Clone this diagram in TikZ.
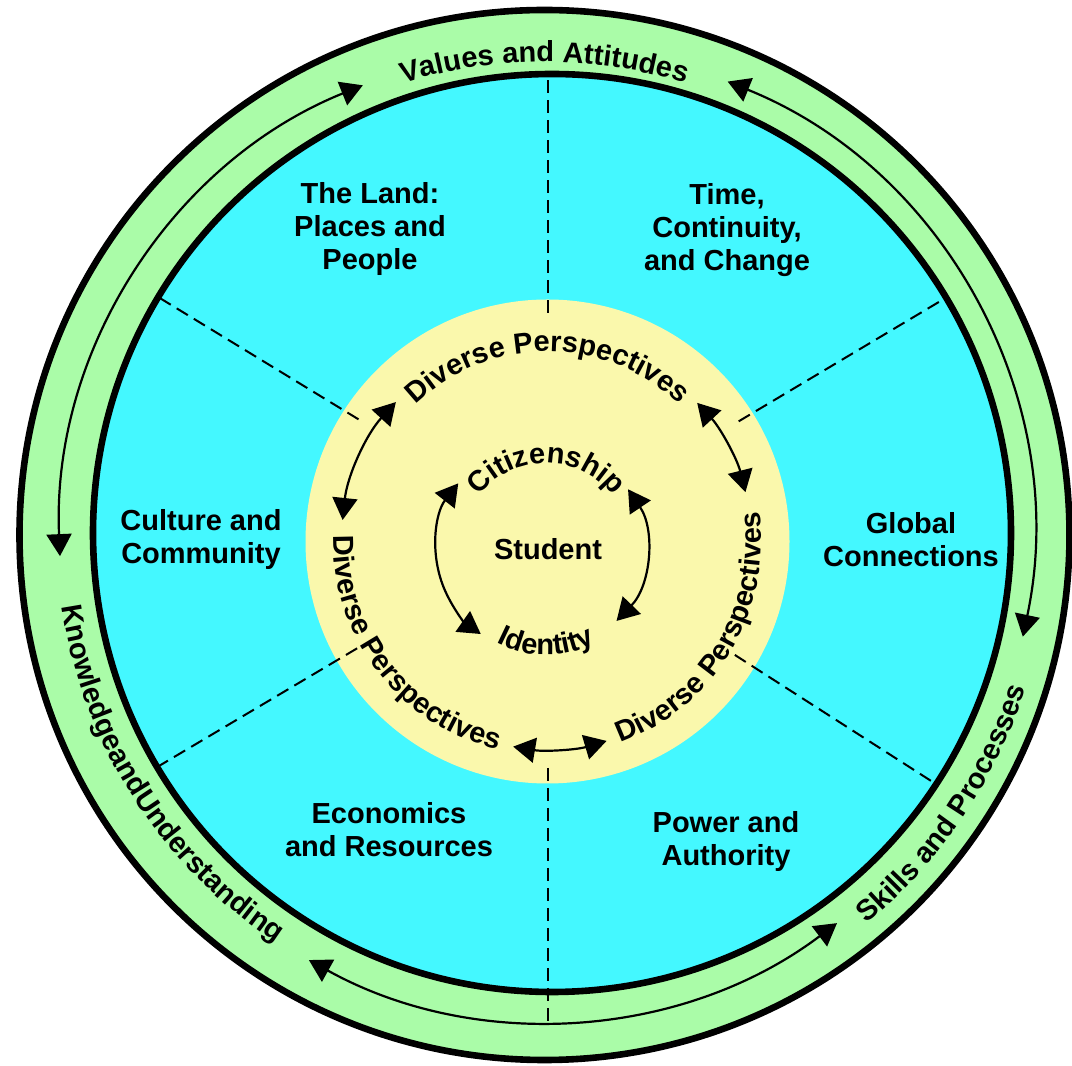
\documentclass[tikz,border=0pt]{standalone}
\usepackage{fontspec}
\setmainfont{Liberation Sans}
\definecolor{ringgreen}{RGB}{170, 252, 168}
\definecolor{fieldcyan}{RGB}{68, 248, 255}
\definecolor{coreyellow}{RGB}{250, 248, 172}
\usetikzlibrary{arrows.meta, decorations.text}
\newcommand{\labelfont}{\bfseries\fontsize{14.5}{16.5}\selectfont}

\begin{document}
\begin{tikzpicture}[x=0.5pt, y=0.5pt,
  sector/.style={font=\labelfont, align=center, inner sep=0pt},
  divider/.style={dash pattern=on 6.5pt off 3.5pt, line width=1pt},
  cyclearrow/.style={line width=1.1pt, {Triangle[length=11pt, width=12.5pt]}-{Triangle[length=11pt, width=12.5pt]}},
  ringtext/.style={decorate, decoration={text along path, text align=center, text={|\labelfont|#1}}}]
  \useasboundingbox (0,0) rectangle (1072,1066);
  \coordinate (outer) at (544.5,531);
  \coordinate (field) at (552,533);
  \coordinate (core) at (547.5,524.5);
  \coordinate (hub) at (548,531);
  \coordinate (self) at (541,518);
  \coordinate (selftext) at (546,518);

  \draw[line width=3.3pt, fill=ringgreen] (outer) circle[radius=525];
  \draw[line width=3.3pt, fill=fieldcyan] (field) circle[radius=459];
  \fill[coreyellow] (core) circle[radius=242];

  \foreach \a in {90, 30.8, 148.6, 210.7, 327.3}
    \draw[divider] ([shift={(hub)}]\a:222) -- ([shift={(hub)}]\a:460);
  \draw[divider] ([shift={(hub)}]270:233) -- ([shift={(hub)}]270:487);

  \draw[cyclearrow] ([shift={(outer)}]112:485) arc[start angle=112, end angle=182.5, radius=485];
  \draw[cyclearrow] ([shift={(outer)}]68:489) arc[start angle=68, end angle=-12, radius=489];
  \draw[cyclearrow] ([shift={(outer)}]241:486) arc[start angle=241, end angle=307, radius=486];

  \path[ringtext={Values and Attitudes}] ([shift={(outer)}]180:473) arc[start angle=180, end angle=0, radius=473];
  \path[ringtext={Skills and Processes}] ([shift={(outer)}]276:505) arc[start angle=276, end angle=376, radius=505];
  \path[ringtext={KnowledgeandUnderstanding}] ([shift={(outer)}]162.5:488) arc[start angle=162.5, end angle=262.5, radius=488];

  \draw[cyclearrow] ([shift={(core)}]137.4:206) arc[start angle=137.4, end angle=174, radius=206];
  \draw[cyclearrow] ([shift={(core)}]42.8:204) arc[start angle=42.8, end angle=14, radius=204];
  \draw[cyclearrow] ([shift={(core)}]260.5:208) arc[start angle=260.5, end angle=286.5, radius=208];

  \path[ringtext={Diverse Perspectives}] ([shift={(core)}]180:190) arc[start angle=180, end angle=0, radius=190];
  \path[ringtext={Diverse Perspectives}] ([shift={(core)}]157.5:214) arc[start angle=157.5, end angle=277.5, radius=214];
  \path[ringtext={Diverse Perspectives}] ([shift={(core)}]269:214) arc[start angle=269, end angle=389, radius=214];

  \draw[cyclearrow] ([shift={(self)}]142:105) arc[start angle=142, end angle=235, radius=105];
  \draw[cyclearrow] ([shift={(self)}]34:105) arc[start angle=34, end angle=-44, radius=105];

  \path[ringtext={Citizenship}] ([shift={(selftext)}]180:85) arc[start angle=180, end angle=0, radius=85];
  \path[ringtext={Identity}] ([shift={(selftext)}]200:107) arc[start angle=200, end angle=340, radius=107];

  \node[sector] (student) at (548,517) {Student};
  \node[sector] (land) at (370,837) {The Land:\\Places and\\People};
  \node[sector] (time) at (727,836) {Time,\\Continuity,\\and Change};
  \node[sector] (culture) at (201,526) {Culture and\\Community};
  \node[sector] (global) at (911,526) {Global\\Connections};
  \node[sector] (economics) at (389,236) {Economics\\and Resources};
  \node[sector] (power) at (726,224) {Power and\\Authority};
\end{tikzpicture}
\end{document}
